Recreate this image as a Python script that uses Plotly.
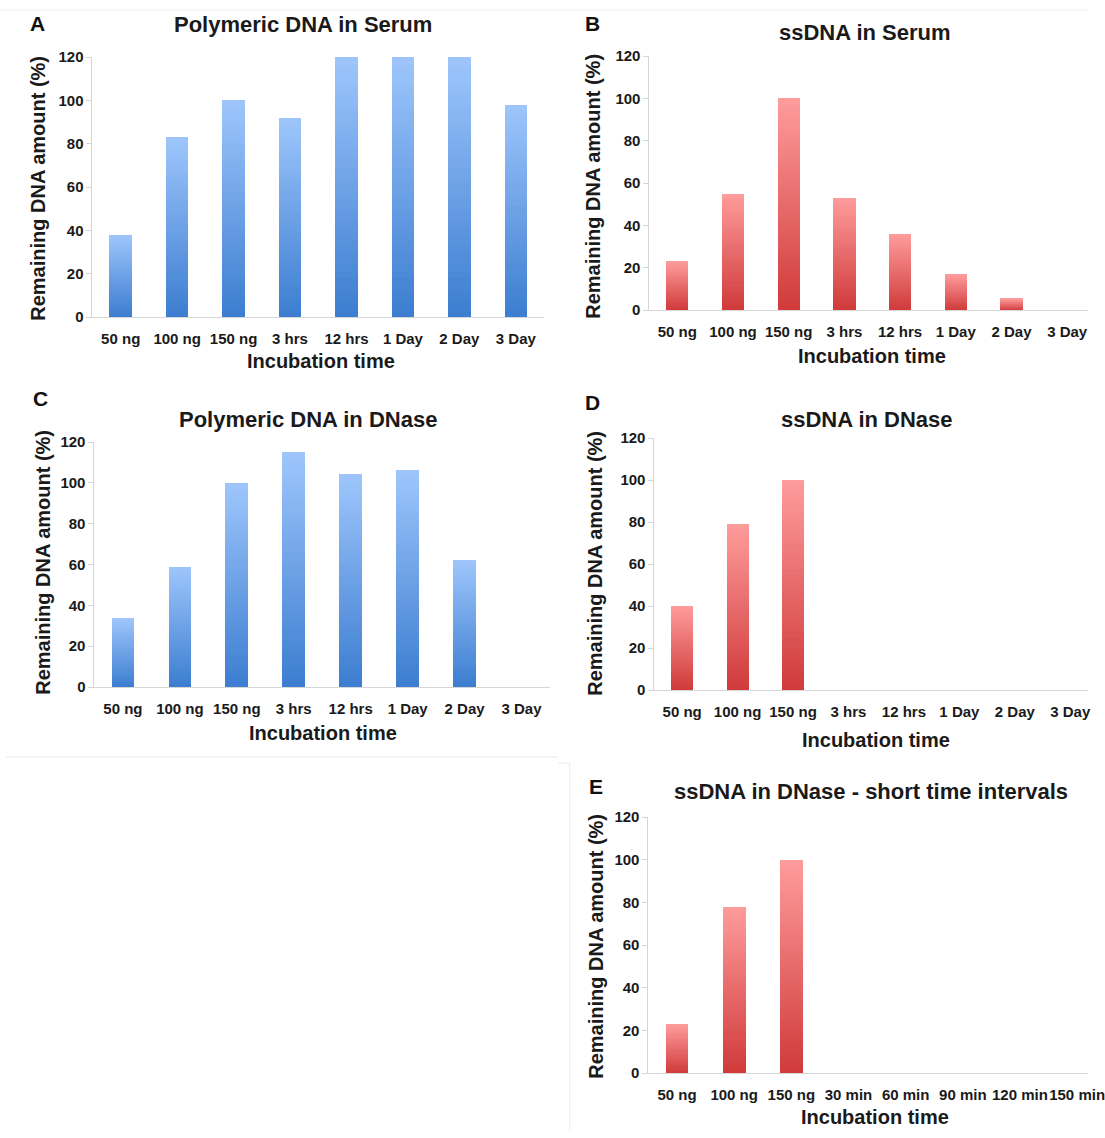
import plotly.graph_objects as go

W, H = 1105, 1138

# ---------------- data ----------------
categories_main = ["50 ng", "100 ng", "150 ng", "3 hrs", "12 hrs", "1 Day", "2 Day", "3 Day"]
categories_short = ["50 ng", "100 ng", "150 ng", "30 min", "60 min", "90 min", "120 min", "150 min"]
poly_serum = [38, 83, 100, 92, 120, 120, 120, 98]
ss_serum = [23, 55, 100, 53, 36, 17, 5.5, 0]
poly_dnase = [34, 59, 100, 115, 104.5, 106.5, 62, 0]
ss_dnase = [40, 79, 100, 0, 0, 0, 0, 0]
ss_dnase_short = [23, 78, 100, 0, 0, 0, 0, 0]
y_ticks = [0, 20, 40, 60, 80, 100, 120]
titles = ["Polymeric DNA in Serum", "ssDNA in Serum", "Polymeric DNA in DNase",
          "ssDNA in DNase", "ssDNA in DNase - short time intervals"]
letters = ["A", "B", "C", "D", "E"]

BLUE = ((60, 125, 208), (158, 198, 252))
RED = ((208, 58, 58), (255, 156, 156))

# panel geometry in target-picture pixels (layout only)
panels = [
    dict(cats=categories_main, vals=poly_serum, col=BLUE, x0=92, x1=546, yt=57, yb=317, xr=[-0.5, 7.5],
         title=(304, 24), letter=(37, 23), ytitle=(37, 188), xtitle=(322, 361)),
    dict(cats=categories_main, vals=ss_serum, col=RED, x0=652, x1=1100, yt=56, yb=310, xr=[-0.5, 7.5],
         title=(869, 32), letter=(595, 23), ytitle=(595, 186), xtitle=(876, 356)),
    dict(cats=categories_main, vals=poly_dnase, col=BLUE, x0=94, x1=552, yt=442, yb=687, xr=[-0.5, 7.5],
         title=(309, 419), letter=(40, 398), ytitle=(42, 562), xtitle=(324, 733)),
    dict(cats=categories_main, vals=ss_dnase, col=RED, x0=657, x1=1103, yt=438, yb=690, xr=[-0.5, 7.5],
         title=(871, 419), letter=(595, 402), ytitle=(597, 563), xtitle=(880, 740)),
    dict(cats=categories_short, vals=ss_dnase_short, col=RED, x0=651, x1=1105, yt=817, yb=1073, xr=[-0.5, 7.4],
         title=(875, 791), letter=(598, 786), ytitle=(598, 946), xtitle=(879, 1117)),
]

FONT = "Liberation Sans, Arial, sans-serif"
N = 40

# calibration of picture pixels -> page pixels (measured from earlier renders)
SX, OX = 0.99, -1.0
SY, OY = 0.985, 9.0


def page_x(x):
    return (x - OX) / SX


def page_y(y):
    return (y - OY) / SY


def px_x(x):
    return min(max(page_x(x) / W, 0), 1)


def px_y(y):
    return min(max(1 - page_y(y) / H, 0), 1)


def mix(c0, c1, t):
    return "rgb(%d,%d,%d)" % tuple(round(a + (b - a) * t) for a, b in zip(c0, c1))


fig = go.Figure()
annotations = []
layout_axes = {}

for i, p in enumerate(panels):
    n = i + 1
    xa = "x" if n == 1 else f"x{n}"
    ya = "y" if n == 1 else f"y{n}"
    # clip the right end at the page edge while keeping the category spacing
    x0p, x1p = page_x(p["x0"]), page_x(p["x1"])
    xr = list(p["xr"])
    if x1p > W:
        span = xr[1] - xr[0]
        xr[1] = xr[0] + span * (W - x0p) / (x1p - x0p)
    for k in range(N):
        t = (k + 0.5) / N
        fig.add_trace(go.Bar(
            x=p["cats"], y=[v / N for v in p["vals"]],
            xaxis=xa, yaxis=ya,
            marker=dict(color=mix(p["col"][0], p["col"][1], t), line=dict(width=0)),
            showlegend=False, hoverinfo="skip",
        ))
    layout_axes[f"xaxis{'' if n == 1 else n}"] = dict(
        domain=[px_x(p["x0"]), px_x(p["x1"])], anchor=ya, range=xr,
        type="category", categoryorder="array", categoryarray=p["cats"],
        showline=True, linecolor="#d6d6d6", linewidth=1, showgrid=False, zeroline=False,
        ticks="outside", ticklen=8, tickcolor="rgba(0,0,0,0)", tickangle=0,
        tickfont=dict(family=FONT, size=15, color="#1a1a1a", weight="bold"),
    )
    layout_axes[f"yaxis{'' if n == 1 else n}"] = dict(
        domain=[px_y(p["yb"]), px_y(p["yt"])], anchor=xa, range=[0, 120],
        tickvals=y_ticks, showline=True, linecolor="#d6d6d6", linewidth=1,
        showgrid=False, zeroline=False, ticks="outside", ticklen=5, tickcolor="#d6d6d6",
        tickfont=dict(family=FONT, size=15, color="#1a1a1a", weight="bold"),
    )
    annotations.append(dict(text=titles[i], x=px_x(p["title"][0]), y=px_y(p["title"][1]),
                            xref="paper", yref="paper", showarrow=False, xanchor="center", yanchor="middle",
                            font=dict(family=FONT, size=22, color="#1a1a1a", weight="bold")))
    annotations.append(dict(text=letters[i], x=px_x(p["letter"][0]), y=px_y(p["letter"][1]),
                            xref="paper", yref="paper", showarrow=False, xanchor="center", yanchor="middle",
                            font=dict(family=FONT, size=21, color="#111111", weight="bold")))
    annotations.append(dict(text="Remaining DNA amount (%)", x=px_x(p["ytitle"][0]), y=px_y(p["ytitle"][1]),
                            xref="paper", yref="paper", showarrow=False, xanchor="center", yanchor="middle",
                            textangle=-90,
                            font=dict(family=FONT, size=20, color="#1a1a1a", weight="bold")))
    annotations.append(dict(text="Incubation time", x=px_x(p["xtitle"][0]), y=px_y(p["xtitle"][1]),
                            xref="paper", yref="paper", showarrow=False, xanchor="center", yanchor="middle",
                            font=dict(family=FONT, size=20, color="#1a1a1a", weight="bold")))

shapes = [
    dict(type="line", xref="paper", yref="paper", x0=0, x1=1, y0=px_y(10), y1=px_y(10),
         line=dict(color="#efefef", width=1)),
    dict(type="line", xref="paper", yref="paper", x0=px_x(5), x1=px_x(560), y0=px_y(757), y1=px_y(757),
         line=dict(color="#ebebeb", width=1)),
    dict(type="line", xref="paper", yref="paper", x0=px_x(560), x1=px_x(572), y0=px_y(763), y1=px_y(763),
         line=dict(color="#ebebeb", width=1)),
    dict(type="line", xref="paper", yref="paper", x0=px_x(572), x1=px_x(572), y0=px_y(763), y1=0,
         line=dict(color="#ebebeb", width=1)),
]

fig.update_layout(
    width=W, height=H, margin=dict(l=0, r=0, t=0, b=0),
    paper_bgcolor="white", plot_bgcolor="white",
    barmode="stack", bargap=0.6, showlegend=False,
    annotations=annotations, shapes=shapes,
    **layout_axes,
)

fig.write_html("out.html", config={"displayModeBar": False},
               post_script="document.body.style.margin='0';document.body.style.overflow='hidden';")
